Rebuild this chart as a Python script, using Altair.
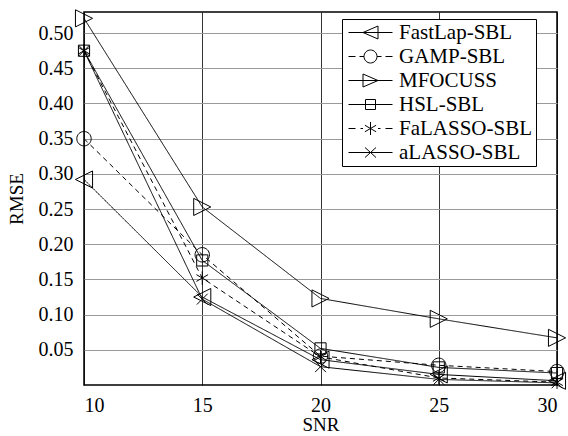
import altair as alt
import pandas as pd

snr = [10, 15, 20, 25, 30]
methods = ["FastLap-SBL", "GAMP-SBL", "MFOCUSS", "HSL-SBL", "FaLASSO-SBL", "aLASSO-SBL"]
fastlap = [0.292, 0.125, 0.036, 0.015, 0.006]
gamp = [0.350, 0.185, 0.041, 0.028, 0.019]
mfocuss = [0.521, 0.253, 0.123, 0.094, 0.067]
hsl = [0.475, 0.177, 0.052, 0.025, 0.017]
falasso = [0.475, 0.152, 0.040, 0.010, 0.004]
alasso = [0.475, 0.122, 0.026, 0.008, 0.003]
y_ticks = [0.05, 0.10, 0.15, 0.20, 0.25, 0.30, 0.35, 0.40, 0.45, 0.50]

series = [fastlap, gamp, mfocuss, hsl, falasso, alasso]
rows = []
for m, vals in zip(methods, series):
    for s, v in zip(snr, vals):
        rows.append({"SNR": s, "RMSE": v, "method": m, "lmethod": m})
df = pd.DataFrame(rows)

FONT = "Liberation Serif"

dashes = [[1, 0], [5, 4], [1, 0], [1, 0], [5, 4], [1, 0]]

# marker shapes (plot)
m_ltri = "M-0.95,0L0.95,-0.95L0.95,0.95Z"
m_circ = "M-0.8,0A0.8,0.8 0 1,0 0.8,0A0.8,0.8 0 1,0 -0.8,0Z"
m_rtri = "M0.95,0L-0.95,-0.95L-0.95,0.95Z"
m_sq = "M-0.62,-0.62H0.62V0.62H-0.62Z"
m_star = "M0,-0.75V0.75M-0.65,-0.375L0.65,0.375M-0.65,0.375L0.65,-0.375"
m_x = "M-0.6,-0.6L0.6,0.6M-0.6,0.6L0.6,-0.6"
marker_paths = [m_ltri, m_circ, m_rtri, m_sq, m_star, m_x]

# legend shapes (line + marker), 1 unit = 10 px
solid = "M-2.2,0H2.2"
dashed = "M-2.2,0H-1.5M-1.0,0H-0.75M0.75,0H1.0M1.5,0H2.2"
l_ltri = "M-0.75,0L0.75,-0.65L0.75,0.65Z"
l_circ = "M-0.65,0A0.65,0.65 0 1,0 0.65,0A0.65,0.65 0 1,0 -0.65,0Z"
l_rtri = "M0.75,0L-0.75,-0.65L-0.75,0.65Z"
l_sq = "M-0.5,-0.5H0.5V0.5H-0.5Z"
l_star = "M0,-0.65V0.65M-0.56,-0.325L0.56,0.325M-0.56,0.325L0.56,-0.325"
l_x = "M-0.55,-0.5L0.55,0.5M-0.55,0.5L0.55,-0.5"
legend_paths = [
    solid + l_ltri,
    "M-2.2,0H-1.5M-1.1,0H-0.65M0.65,0H1.1M1.5,0H2.2" + l_circ,
    solid + l_rtri,
    solid + l_sq,
    dashed + l_star,
    solid + l_x,
]

x_enc = alt.X("SNR:Q", scale=alt.Scale(domain=[10, 30], nice=False, zero=False),
              axis=alt.Axis(values=snr, title="SNR", grid=True, gridColor="#000000",
                            gridWidth=0.8, format="d"))
y_enc = alt.Y("RMSE:Q", scale=alt.Scale(domain=[0, 0.53], nice=False),
              axis=alt.Axis(values=y_ticks, title="RMSE", format=".2f", grid=True,
                            gridColor="#9a9a9a", gridWidth=1.2))

base = alt.Chart(df)

lines = base.mark_line(color="black", strokeWidth=1).encode(
    x=x_enc, y=y_enc,
    detail="method:N",
    strokeDash=alt.StrokeDash("method:N", scale=alt.Scale(domain=methods, range=dashes), legend=None),
)

markers = base.mark_point(filled=False, color="black", strokeWidth=1, size=324, opacity=1).encode(
    x="SNR:Q", y="RMSE:Q",
    shape=alt.Shape("method:N", scale=alt.Scale(domain=methods, range=marker_paths), legend=None),
)

legend_layer = base.transform_filter("false").mark_point(
    filled=False, color="black", strokeWidth=1, size=400, opacity=1).encode(
    x="SNR:Q", y="RMSE:Q",
    shape=alt.Shape("lmethod:N", scale=alt.Scale(domain=methods, range=legend_paths),
                    legend=alt.Legend(title=None, orient="none", legendX=258, legendY=7,
                                      fillColor="white", strokeColor="black",
                                      padding=3, symbolOffset=15, labelOffset=18,
                                      rowPadding=2, symbolSize=400,
                                      symbolStrokeColor="black", symbolStrokeWidth=1,
                                      symbolFillColor="transparent",
                                      labelFont=FONT, labelFontSize=21, labelColor="black",
                                      labelLimit=300)),
)

chart = alt.layer(lines, markers, legend_layer).resolve_scale(shape="independent").properties(
    width=473, height=373,
    autosize=alt.AutoSizeParams(type="none"),
    padding={"left": 84, "top": 12, "right": 11, "bottom": 51},
).configure_view(stroke="black", strokeWidth=1.5).configure_axis(
    labelFont=FONT, labelFontSize=20, labelColor="black",
    titleFont=FONT, titleFontSize=19, titleColor="black", titleFontWeight="normal",
    domain=False, ticks=False, tickSize=0, labelPadding=11,
).configure_axisX(titlePadding=0, labelPadding=10).configure_axisY(titlePadding=12)

chart.save("out.html", embed_options={"renderer": "svg", "actions": False})
